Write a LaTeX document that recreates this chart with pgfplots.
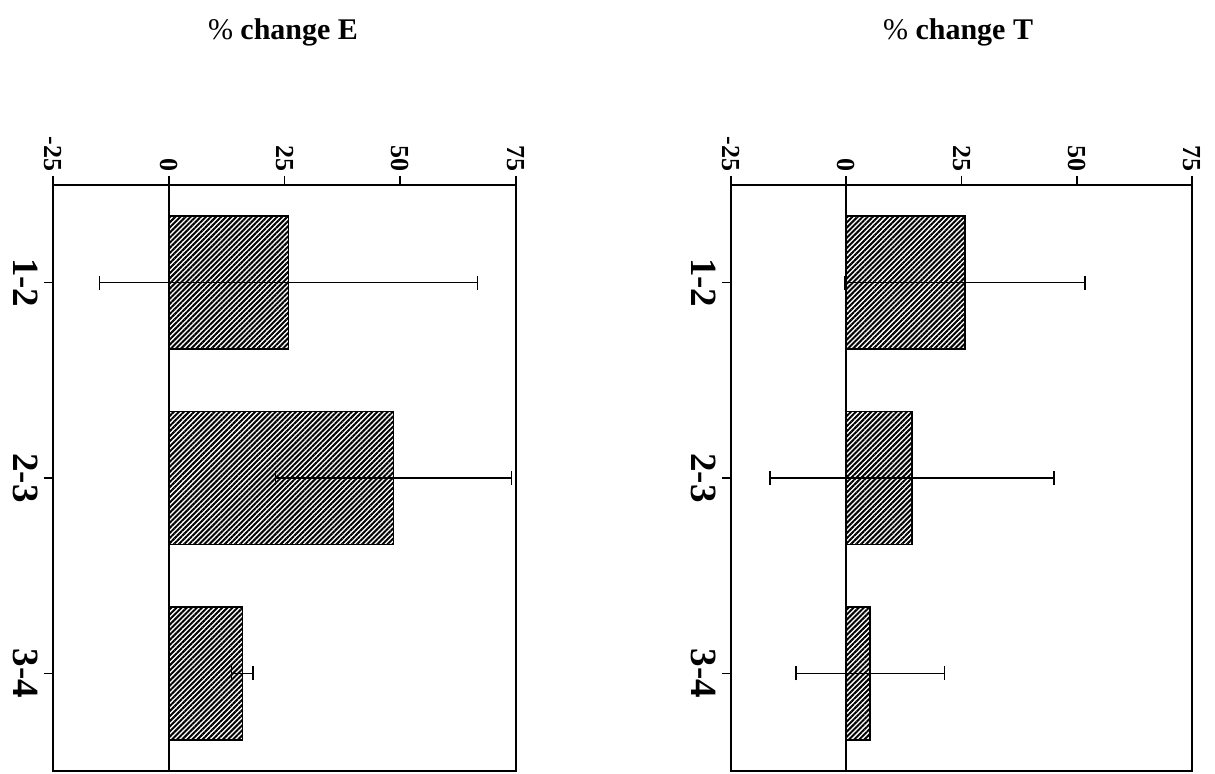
\documentclass[border=0pt]{standalone}
\usepackage{pgfplots}
\pgfplotsset{compat=1.18}
\usepackage{fontspec}
\setmainfont{Liberation Serif}
\usetikzlibrary{patterns.meta}

\pgfplotsset{
  panel/.style={
    scale only axis,
    width=231pt, height=293pt,
    xmin=-25, xmax=75,
    ymin=-0.5, ymax=2.5,
    y dir=reverse,
    xtick={-25,0,25,50,75},
    xtick pos=upper, xticklabel pos=upper,
    ytick={0,1,2}, yticklabels={1-2,2-3,3-4},
    ytick pos=left,
    tick align=outside,
    major tick length=4.5pt,
    axis line style={line width=0.8pt},
    every tick/.style={black, line width=0.8pt},
    /pgf/number format/assume math mode=true,
    xticklabel style={rotate=-90, anchor=east, font=\fontsize{13}{15}\selectfont\bfseries, inner sep=2pt},
    yticklabel style={rotate=-90, anchor=north, font=\fontsize{18.5}{22}\selectfont\bfseries, inner sep=3pt},
    xbar, bar width=0.68,
    clip=false,
  },
  hbar/.style={
    draw=black, line width=0.8pt,
    pattern={Lines[angle=45,distance=1.8pt,line width=1pt]}, pattern color=black,
    error bars/.cd, x dir=both, x explicit,
    error mark=|,
    error bar style={line width=0.7pt, black},
    error mark options={black, mark size=3.5pt, line width=0.7pt},
  },
}

\begin{document}
\begin{tikzpicture}
\path[use as bounding box] (0,0) rectangle (607.5pt,387pt);

\begin{axis}[panel, at={(26.5pt,1.5pt)}, anchor=south west, width=231.5pt]
  \addplot[hbar] coordinates {
    (25.9,0) +- (40.8,0)
    (48.5,1) +- (25.5,0)
    (15.9,2) +- (2.3,0)
  };
  \draw[line width=0.8pt] (axis cs:0,-0.5) -- (axis cs:0,2.5);
\end{axis}

\begin{axis}[panel, at={(365.5pt,1.5pt)}, anchor=south west, width=230.5pt]
  \addplot[hbar] coordinates {
    (25.7,0) +- (26.1,0)
    (14.3,1) +- (30.8,0)
    (5.2,2) +- (16.1,0)
  };
  \draw[line width=0.8pt] (axis cs:0,-0.5) -- (axis cs:0,2.5);
\end{axis}

\node[font=\fontsize{15}{18}\selectfont] at (141.5pt,371pt) {\%~\textbf{change E}};
\node[font=\fontsize{15}{18}\selectfont] at (479pt,371pt) {\%~\textbf{change T}};
\end{tikzpicture}
\end{document}
